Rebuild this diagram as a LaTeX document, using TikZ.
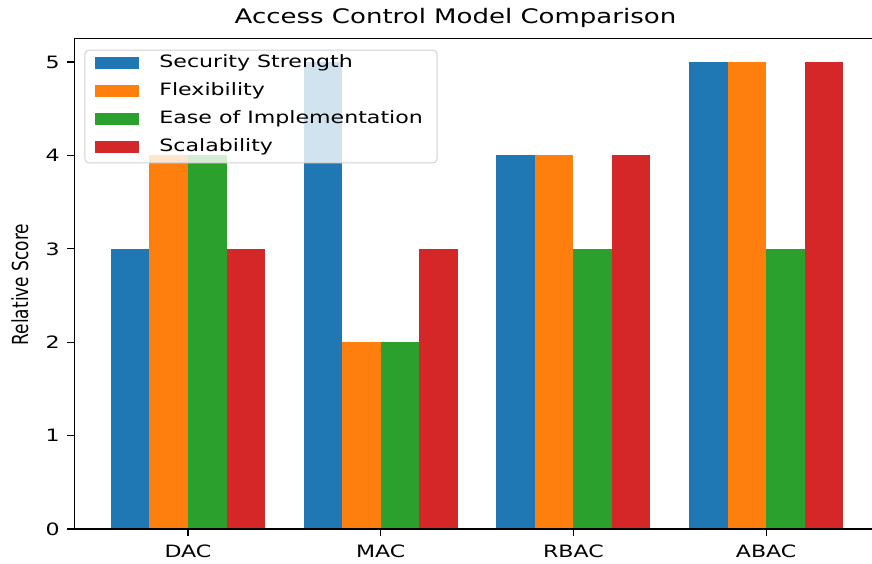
\documentclass[tikz,border=0pt]{standalone}
\usepackage{fontspec}
\setmainfont{DejaVu Sans}
\usetikzlibrary{positioning}

\definecolor{tabblue}{HTML}{1F77B4}
\definecolor{taborange}{HTML}{FF7F0E}
\definecolor{tabgreen}{HTML}{2CA02C}
\definecolor{tabred}{HTML}{D62728}
\newcommand{\wide}[1]{\scalebox{1.3}[1]{#1}}

\tikzset{
  secbar/.style={fill=tabblue},
  flexbar/.style={fill=taborange},
  easebar/.style={fill=tabgreen},
  scalebar/.style={fill=tabred},
  ticklbl/.style={inner sep=0pt, font=\fontsize{8.5}{10}\selectfont},
  legtext/.style={inner sep=0pt, anchor=west, font=\fontsize{8.5}{10}\selectfont},
}

\begin{document}
\begin{tikzpicture}[x=96.35pt, y=46.7pt]
 \useasboundingbox (-0.9756,-0.364) rectangle (3.5496,5.664);
 \clip (-0.9756,-0.364) rectangle (3.5496,5.664);

 \fill[secbar]   (-0.4,0) rectangle (-0.2,3);
 \fill[flexbar]  (-0.2,0) rectangle (0,4);
 \fill[easebar]  (0,0) rectangle (0.2,4);
 \fill[scalebar] (0.2,0) rectangle (0.4,3);

 \fill[secbar]   (0.6,0) rectangle (0.8,5);
 \fill[flexbar]  (0.8,0) rectangle (1,2);
 \fill[easebar]  (1,0) rectangle (1.2,2);
 \fill[scalebar] (1.2,0) rectangle (1.4,3);

 \fill[secbar]   (1.6,0) rectangle (1.8,4);
 \fill[flexbar]  (1.8,0) rectangle (2,4);
 \fill[easebar]  (2,0) rectangle (2.2,3);
 \fill[scalebar] (2.2,0) rectangle (2.4,4);

 \fill[secbar]   (2.6,0) rectangle (2.8,5);
 \fill[flexbar]  (2.8,0) rectangle (3,5);
 \fill[easebar]  (3,0) rectangle (3.2,3);
 \fill[scalebar] (3.2,0) rectangle (3.4,5);

 \draw[line width=0.7pt] (-0.59,0) rectangle (3.59,5.25);

 \foreach \v in {0,1,2,3,4,5} {
  \draw[line width=0.6pt] (-0.626,\v) -- (-0.59,\v);
  \node[ticklbl, anchor=east] (y\v) at (-0.664,\v) {\wide{\v}};
 }
 \foreach \x/\n in {0/DAC,1/MAC,2/RBAC,3/ABAC} {
  \draw[line width=0.6pt] (\x,0) -- (\x,-0.075);
  \node[ticklbl, anchor=north] (\n) at (\x,-0.165) {\wide{\n}};
 }

 \node[ticklbl, rotate=90] (ylab) at (-0.872,2.618) {\scalebox{1}[1.3]{Relative Score}};
 \node[inner sep=0pt, font=\fontsize{10}{12}\selectfont] (title) at (1.388,5.471) {\wide{Access Control Model Comparison}};

 \draw[fill=white, fill opacity=0.8, draw=black!18, line width=0.5pt, rounded corners=2pt] (-0.5345,3.919) rectangle (1.2922,5.128);
 \fill[secbar]   (-0.4826,4.922) rectangle (-0.2543,5.057);
 \fill[flexbar]  (-0.4826,4.622) rectangle (-0.2543,4.757);
 \fill[easebar]  (-0.4826,4.322) rectangle (-0.2543,4.457);
 \fill[scalebar] (-0.4826,4.022) rectangle (-0.2543,4.157);
 \node[legtext] (lsec)   at (-0.1505,4.989) {\wide{Security Strength}};
 \node[legtext] (lflex)  at (-0.1505,4.690) {\wide{Flexibility}};
 \node[legtext] (lease)  at (-0.1505,4.390) {\wide{Ease of Implementation}};
 \node[legtext] (lscale) at (-0.1505,4.090) {\wide{Scalability}};
\end{tikzpicture}
\end{document}
